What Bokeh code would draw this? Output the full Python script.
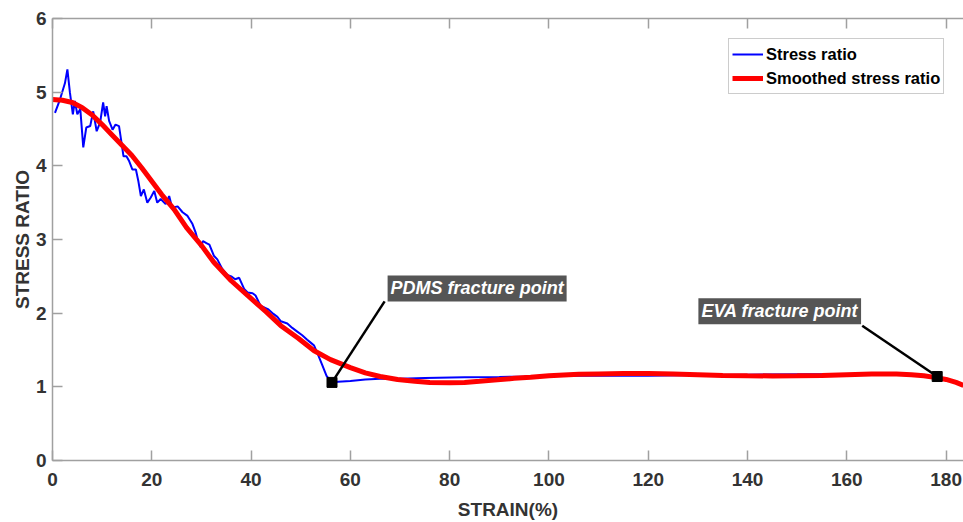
from bokeh.plotting import figure
from bokeh.models import Range1d, LinearAxis, FixedTicker, Label
from bokeh.embed import file_html
from bokeh.resources import INLINE

# ---------------- data ----------------
x_ticks = [0, 20, 40, 60, 80, 100, 120, 140, 160, 180]
y_ticks = [0, 1, 2, 3, 4, 5, 6]

strain_raw = [0.5, 1.5, 2.5, 3.0, 3.5, 4.1, 4.5, 5.0, 5.6, 6.2, 6.8, 7.6, 8.2, 8.9, 9.6,
              10.2, 10.6, 10.9, 11.4, 12.1, 12.7, 13.4, 13.8, 14.3, 14.9, 15.4, 16.1,
              16.8, 17.3, 17.8, 18.4, 19.1, 19.8, 20.5, 21.1, 21.8, 22.8, 23.5, 24.1,
              25.2, 26.2, 27.2, 28.2, 28.8, 29.3, 29.9, 30.3, 31.0, 31.6, 32.5, 33.2,
              34.2, 35.2, 36.0, 36.8, 37.6, 38.6, 39.3, 40.3, 40.9, 41.9, 42.6, 43.5,
              44.5, 45.3, 46.0, 47.3, 48.3, 49.3, 50.3, 51.3, 52.0, 52.7, 53.4, 54.3,
              55.2, 56.2, 57.5, 60.0, 63.0, 66.0, 70.0, 75.0, 83.0, 90.0, 95.0, 103.0,
              110.0, 120.0, 130.0, 140.0, 152.0, 165.0, 172.0, 178.0]
stress_raw = [4.72, 4.90, 5.12, 5.31, 5.00, 4.70, 4.88, 4.70, 4.77, 4.25, 4.52, 4.54, 4.74,
              4.47, 4.59, 4.86, 4.67, 4.81, 4.61, 4.49, 4.56, 4.54, 4.36, 4.13, 4.13, 4.07,
              3.95, 3.95, 3.79, 3.59, 3.68, 3.50, 3.57, 3.66, 3.50, 3.55, 3.48, 3.59, 3.43,
              3.45, 3.37, 3.32, 3.21, 3.10, 2.98, 2.89, 2.98, 2.95, 2.93, 2.78, 2.73, 2.60,
              2.52, 2.50, 2.46, 2.48, 2.33, 2.28, 2.27, 2.24, 2.10, 2.08, 2.05, 1.99, 1.95,
              1.89, 1.86, 1.80, 1.75, 1.70, 1.64, 1.60, 1.56, 1.45, 1.30, 1.15, 1.06, 1.07,
              1.08, 1.10, 1.11, 1.11, 1.12, 1.13, 1.135, 1.14, 1.15, 1.15, 1.15, 1.16,
              1.165, 1.17, 1.17, 1.16, 1.14]

strain_smooth = [0, 2, 4, 6, 8, 10, 12, 14, 16, 18, 20, 22, 24.5, 27, 30, 32.5, 36, 39.3,
                 43, 46, 49.5, 52.7, 56, 60, 63, 66, 69.5, 73, 76, 80, 83, 86, 89.6, 93,
                 96.3, 100, 103, 106, 110, 115, 120, 125, 130, 135, 140, 145, 150, 155,
                 160, 165, 170, 173, 175.5, 178, 180, 182, 183.5]
stress_smooth = [4.90, 4.89, 4.86, 4.79, 4.69, 4.56, 4.42, 4.28, 4.14, 3.97, 3.79, 3.61,
                 3.41, 3.16, 2.92, 2.69, 2.44, 2.24, 2.02, 1.83, 1.66, 1.49, 1.37, 1.26,
                 1.19, 1.14, 1.10, 1.075, 1.06, 1.055, 1.06, 1.075, 1.095, 1.115, 1.13,
                 1.15, 1.16, 1.17, 1.175, 1.18, 1.18, 1.175, 1.165, 1.155, 1.15, 1.148,
                 1.15, 1.155, 1.165, 1.175, 1.175, 1.165, 1.15, 1.125, 1.10, 1.06, 1.02]

fracture_names = ["PDMS fracture point", "EVA fracture point"]
fracture_x = [56.3, 178.2]
fracture_y = [1.06, 1.14]

# ---------------- figure ----------------
FONT = "'Liberation Sans', Arial, sans-serif"
AX = "#a0a0a0"
TXT = "#333333"

p = figure(width=963, height=522, x_range=Range1d(0, 183.5), y_range=Range1d(0, 6),
           output_backend="svg", toolbar_location=None,
           min_border_left=52, min_border_right=0, min_border_top=18, min_border_bottom=60)
p.outline_line_color = None
p.grid.visible = False
p.background_fill_color = "white"
p.border_fill_color = "white"


def style_axis(ax, ticks):
    ax.ticker = FixedTicker(ticks=ticks)
    ax.axis_line_color = AX
    ax.axis_line_width = 1.5
    ax.major_tick_line_color = AX
    ax.major_tick_line_width = 1.5
    ax.major_tick_in = 10
    ax.major_tick_out = 0
    ax.minor_tick_line_color = None
    ax.major_label_text_font = FONT
    ax.major_label_text_font_style = "bold"
    ax.major_label_text_color = TXT
    ax.major_label_text_font_size = "19px"
    ax.axis_label_text_font = FONT
    ax.axis_label_text_font_style = "bold"
    ax.axis_label_text_color = TXT
    ax.axis_label_text_font_size = "19px"


style_axis(p.xaxis[0], x_ticks)
p.xaxis[0].axis_label = "STRAIN(%)"
p.xaxis[0].major_label_standoff = 12
p.xaxis[0].axis_label_standoff = 10

style_axis(p.yaxis[0], y_ticks)
p.yaxis[0].axis_label = "STRESS RATIO"
p.yaxis[0].major_label_standoff = 6
p.yaxis[0].axis_label_standoff = 0

top = LinearAxis()
style_axis(top, x_ticks)
top.major_label_overrides = {t: "" for t in x_ticks}
top.major_label_standoff = 0
p.add_layout(top, "above")

# ---------------- series ----------------
p.line(strain_raw, stress_raw, line_color="#0000ff", line_width=2, legend_label="Stress ratio")
p.line(strain_smooth, stress_smooth, line_color="#ff0000", line_width=5,
       legend_label="Smoothed stress ratio")

# ---------------- annotations ----------------
label_pos = [(67.5, 2.16), (130.1, 1.85)]
line_start = [(66.9, 2.16), (163.1, 1.83)]
p.segment(x0=[s[0] for s in line_start], y0=[s[1] for s in line_start],
          x1=fracture_x, y1=fracture_y, line_color="black", line_width=2.5)
p.scatter(fracture_x, fracture_y, marker="square", size=10, color="black")

for name, (lx, ly) in zip(fracture_names, label_pos):
    p.add_layout(Label(x=lx, y=ly, text=name, text_align="left", text_baseline="bottom",
                       text_font=FONT, text_font_style="bold italic", text_font_size="18px",
                       text_color="white", background_fill_color="#555555",
                       padding=3))

# ---------------- legend ----------------
lg = p.legend[0]
lg.location = (676, 366)
lg.label_text_font = FONT
lg.label_text_font_style = "bold"
lg.label_text_font_size = "16.5px"
lg.label_text_color = "black"
lg.border_line_color = "#999999"
lg.border_line_width = 1
lg.background_fill_color = "white"
lg.background_fill_alpha = 1
lg.padding = 3
lg.spacing = 0
lg.margin = 0
lg.label_height = 24
lg.glyph_height = 24
lg.glyph_width = 31
lg.label_standoff = 3

open("out.html", "w").write(file_html(p, INLINE))
